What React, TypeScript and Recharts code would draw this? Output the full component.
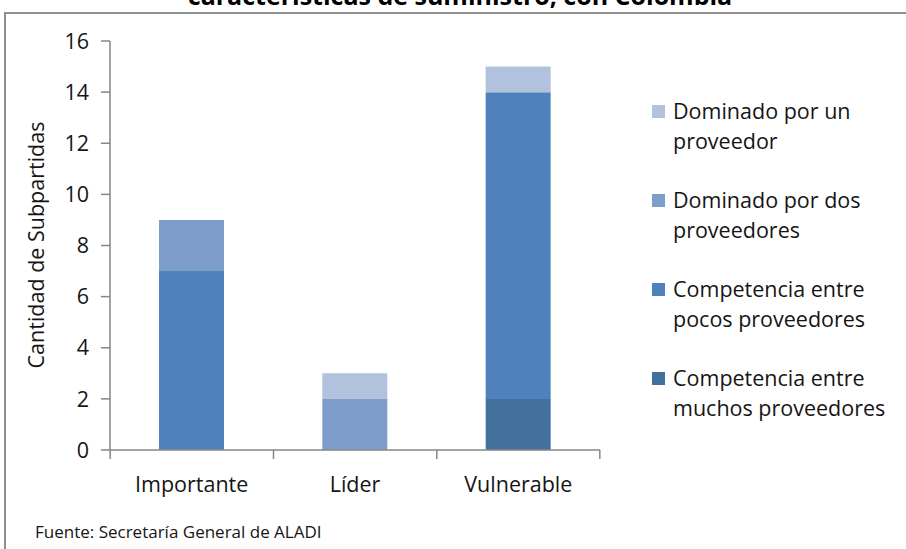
import { BarChart, Bar, XAxis, YAxis } from 'recharts';

const categories = ['Importante', 'Líder', 'Vulnerable'];

// series from the bottom of the stack to the top
const muchos = [0, 0, 2];
const pocos = [7, 0, 12];
const dos = [2, 2, 0];
const uno = [0, 1, 1];

const yTicks = [0, 2, 4, 6, 8, 10, 12, 14, 16];

const series = [
  { key: 'muchos', values: muchos, label: ['Competencia entre', 'muchos proveedores'], color: '#44709E' },
  { key: 'pocos', values: pocos, label: ['Competencia entre', 'pocos proveedores'], color: '#4F81BD' },
  { key: 'dos', values: dos, label: ['Dominado por dos', 'proveedores'], color: '#7E9DCB' },
  { key: 'uno', values: uno, label: ['Dominado por un', 'proveedor'], color: '#B2C1DE' },
];

const data = categories.map((name, i) => {
  const row: Record<string, string | number> = { name };
  series.forEach((s) => {
    row[s.key] = s.values[i];
  });
  return row;
});

const FONT = '"Open Sans", "DejaVu Sans", sans-serif';
const AXIS = '#868686';
const INK = '#151515';
const BAND = 163;

const CategoryTick = (props: any) => {
  const { x, y, payload, index } = props;
  const last = index === categories.length - 1;
  return (
    <g>
      <line x1={x - BAND / 2} x2={x - BAND / 2} y1={y} y2={y + 9} stroke={AXIS} strokeWidth={1.5} />
      {last && <line x1={x + BAND / 2} x2={x + BAND / 2} y1={y} y2={y + 9} stroke={AXIS} strokeWidth={1.5} />}
      <text x={x} y={y + 42} textAnchor="middle" fontSize={21.5} fill={INK} fontFamily={FONT}>
        {payload.value}
      </text>
    </g>
  );
};

export default function App() {
  return (
    <div style={{ position: 'absolute', left: 0, top: 0, width: 906, height: 549, overflow: 'hidden', background: '#fff', fontFamily: FONT }}>
      <div
        style={{
          position: 'absolute',
          left: 0,
          width: 906,
          top: -18,
          textAlign: 'center',
          fontSize: 25,
          lineHeight: '26px',
          fontWeight: 700,
          paddingLeft: 14,
          boxSizing: 'border-box',
          color: '#000',
        }}
      >
        características de suministro, con Colombia
      </div>
      <div style={{ position: 'absolute', left: 4, top: 12, width: 1000, height: 1000, border: '2px solid #8e8e8e' }} />

      <div style={{ position: 'absolute', left: 0, top: 0 }}>
        <BarChart
          width={906}
          height={549}
          data={data}
          margin={{ top: 41, left: 50, right: 306, bottom: 49 }}
          barCategoryGap="30%"
        >
          <XAxis
            dataKey="name"
            axisLine={{ stroke: AXIS, strokeWidth: 1.5 }}
            tickLine={false}
            tickSize={0}
            tickMargin={0}
            height={50}
            interval={0}
            tick={<CategoryTick />}
          />
          <YAxis
            width={60}
            domain={[0, 16]}
            ticks={yTicks}
            interval={0}
            axisLine={{ stroke: AXIS, strokeWidth: 1.5 }}
            tickLine={{ stroke: AXIS, strokeWidth: 1.5 }}
            tickSize={9}
            tickMargin={12}
            tick={{ fontSize: 21.5, fill: INK, fontFamily: FONT }}
          />
          {series.map((s) => (
            <Bar key={s.key} dataKey={s.key} stackId="a" fill={s.color} isAnimationActive={false} />
          ))}
        </BarChart>
      </div>

      <div
        style={{
          position: 'absolute',
          left: 35,
          top: 245,
          transform: 'translate(-50%, -50%) rotate(-90deg)',
          whiteSpace: 'nowrap',
          fontSize: 21.5,
          color: INK,
        }}
      >
        Cantidad de Subpartidas
      </div>

      <div style={{ position: 'absolute', left: 652, top: 96 }}>
        {[...series].reverse().map((s) => (
          <div key={s.key} style={{ display: 'flex', alignItems: 'flex-start', height: 89 }}>
            <div style={{ width: 13, height: 13, background: s.color, marginTop: 9, marginRight: 8 }} />
            <div style={{ fontSize: 21.5, lineHeight: '30px', color: INK, whiteSpace: 'nowrap' }}>
              {s.label[0]}
              <br />
              {s.label[1]}
            </div>
          </div>
        ))}
      </div>

      <div style={{ position: 'absolute', left: 35, top: 520, fontSize: 17, color: INK, whiteSpace: 'nowrap' }}>
        Fuente: Secretaría General de ALADI
      </div>
    </div>
  );
}
